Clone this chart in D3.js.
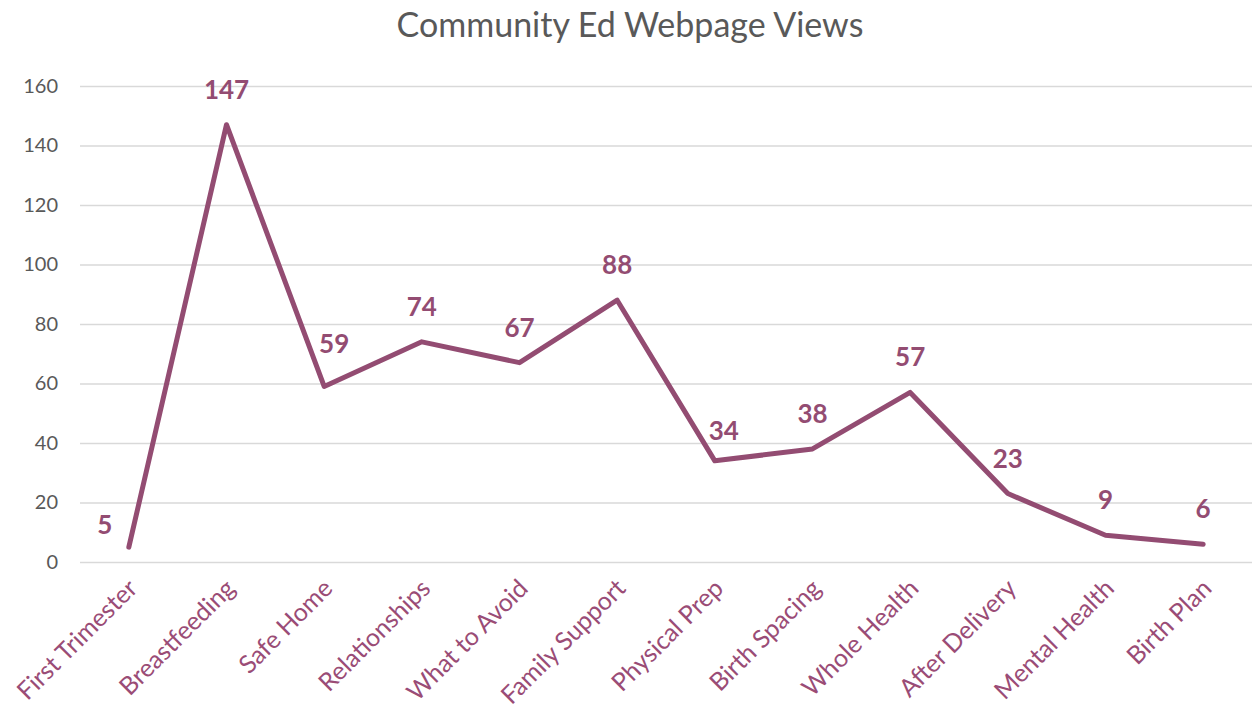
<!DOCTYPE html>
<html>
<head>
<meta charset="utf-8">
<script src="https://cdn.jsdelivr.net/npm/d3@7"></script>
<style>
  html, body { margin: 0; padding: 0; background: #fff; }
  svg { display: block; font-family: Lato, "Open Sans", sans-serif; }
</style>
</head>
<body>
<svg id="chart" width="1252" height="713"></svg>
<script>
const categories = ["First Trimester", "Breastfeeding", "Safe Home", "Relationships", "What to Avoid",
  "Family Support", "Physical Prep", "Birth Spacing", "Whole Health", "After Delivery",
  "Mental Health", "Birth Plan"];
const views = [5, 147, 59, 74, 67, 88, 34, 38, 57, 23, 9, 6];
const yTicks = [0, 20, 40, 60, 80, 100, 120, 140, 160];

const W = 1252, H = 713;
const margin = { left: 80, right: 0, top: 86, bottom: 151 };
const lineColor = "#934C72";
const svg = d3.select("#chart");

const x = d3.scaleBand().domain(categories).range([margin.left, W - margin.right]).padding(0);
const y = d3.scaleLinear().domain([0, 160]).range([H - margin.bottom, margin.top]);
const cx = d => x(d) + x.bandwidth() / 2;

// title
svg.append("text")
  .attr("x", 630).attr("y", 37)
  .attr("text-anchor", "middle")
  .attr("font-size", 34).attr("fill", "#595959")
  .text("Community Ed Webpage Views");

// gridlines and value axis
const yAxis = d3.axisLeft(y).tickValues(yTicks).tickSize(-(W - margin.left - margin.right)).tickPadding(22);
const gy = svg.append("g").attr("transform", `translate(${margin.left},0)`).call(yAxis);
gy.select(".domain").remove();
gy.selectAll(".tick line").attr("stroke", "#d9d9d9").attr("stroke-width", 1.5);
gy.selectAll(".tick text").attr("font-size", 20).attr("fill", "#595959")
  .attr("font-family", "Lato, 'Open Sans', sans-serif");

// category axis, labels rotated
const gx = svg.append("g").attr("transform", `translate(0,${H - margin.bottom})`)
  .call(d3.axisBottom(x).tickSize(0).tickPadding(0));
gx.select(".domain").remove();
gx.selectAll(".tick text")
  .attr("font-size", 25).attr("fill", "#9A4C76")
  .attr("font-family", "Lato, 'Open Sans', sans-serif")
  .attr("text-anchor", "end")
  .attr("dy", 0)
  .attr("transform", "translate(10,28) rotate(-45)");

// line
const line = d3.line().x((d, i) => cx(categories[i])).y(d => y(d));
svg.append("path")
  .datum(views)
  .attr("d", line)
  .attr("fill", "none")
  .attr("stroke", lineColor)
  .attr("stroke-width", 5)
  .attr("stroke-linejoin", "round")
  .attr("stroke-linecap", "round");

// value labels: above each point, with a few nudged to clear the line
const nudge = { 0: [-24, 13], 2: [10, -7], 6: [9, 5] };
svg.append("g").selectAll("text")
  .data(views)
  .join("text")
  .attr("x", (d, i) => cx(categories[i]) + (nudge[i] ? nudge[i][0] : 0))
  .attr("y", (d, i) => y(d) - 26 + (nudge[i] ? nudge[i][1] : 0))
  .attr("text-anchor", "middle")
  .attr("font-size", 26).attr("font-weight", "bold")
  .attr("fill", lineColor)
  .text(d => d);
</script>
</body>
</html>
